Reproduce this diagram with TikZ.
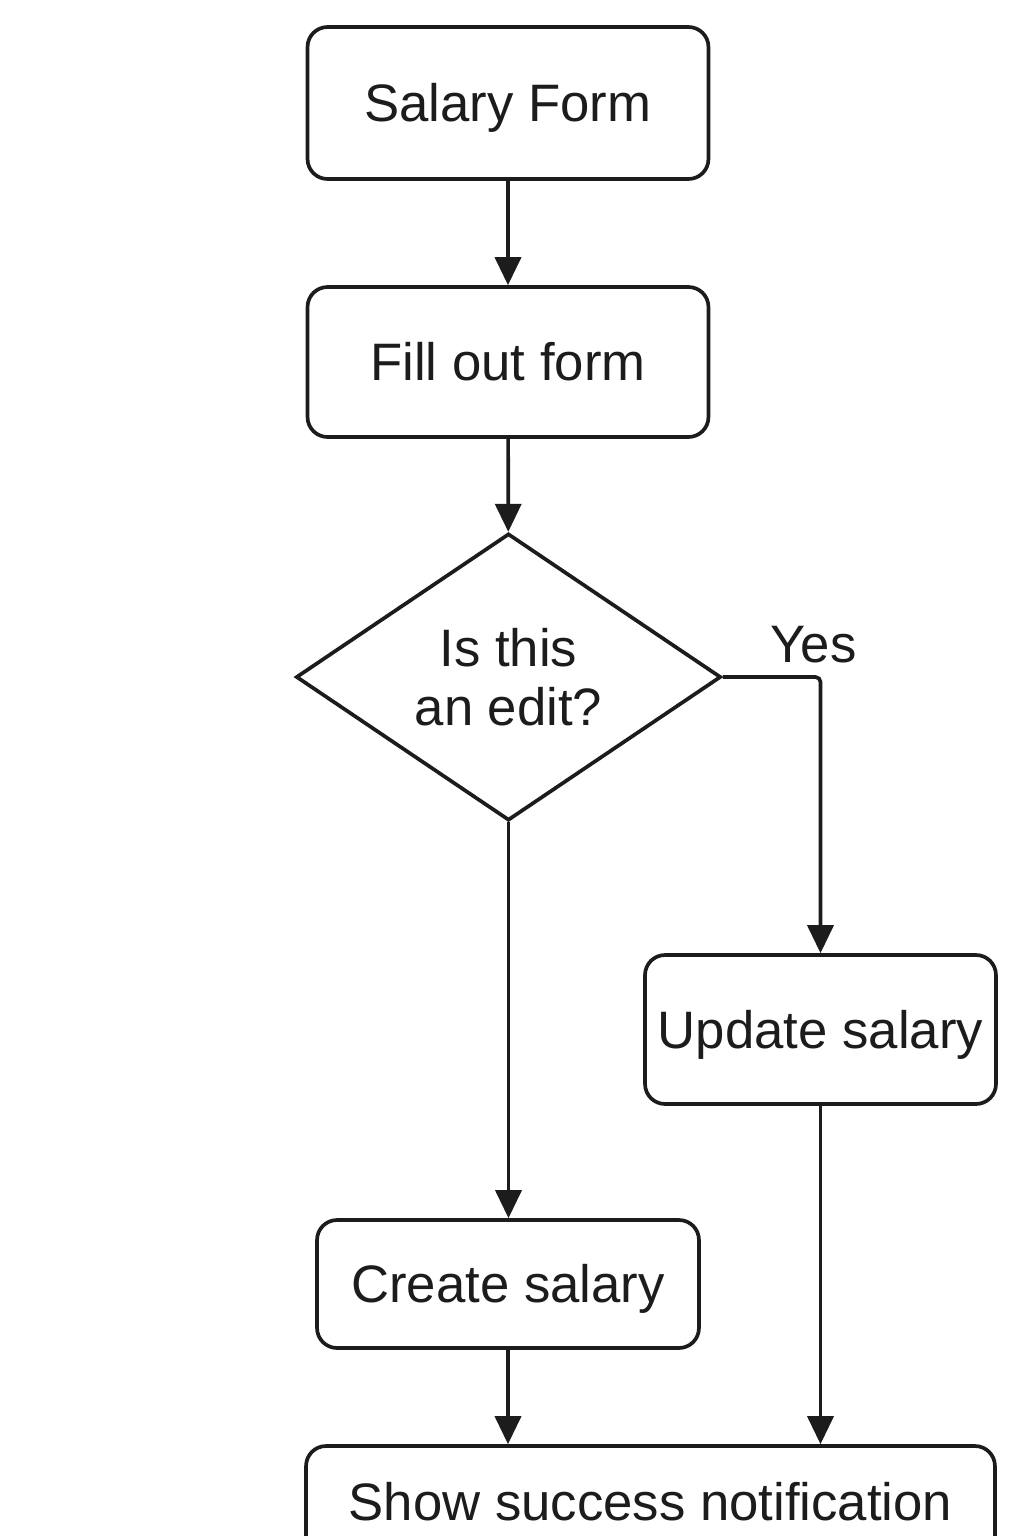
\documentclass[tikz,border=0pt]{standalone}
\usepackage{fontspec}
\setmainfont{Liberation Sans}
\usetikzlibrary{shapes.geometric,arrows.meta}
\definecolor{ink}{HTML}{1C1C1C}
\tikzset{
  box/.style={draw=ink, line width=2.1pt, rounded corners=0.4cm, inner sep=0pt,
    text=ink, font=\fontsize{30}{35}\selectfont, text height=21.5pt, text depth=0pt},
  decision/.style={draw=ink, line width=2.1pt, diamond, inner sep=0pt, text=ink,
    align=center, font=\fontsize{30}{33.6}\selectfont,
    minimum width=8.5cm, minimum height=5.74cm},
  flow/.style={draw=ink, line width=2.1pt, -{Triangle[length=0.56cm,width=0.52cm]}}
}
\begin{document}
\begin{tikzpicture}[x=0.02cm, y=-0.02cm]
  \clip (0,0) rectangle (1024,1536);
  \fill[white] (0,0) rectangle (1024,1536);

  % the boxes
  \node[box, minimum width=8.02cm, minimum height=3.04cm] (form) at (508,103) {Salary Form};
  \node[box, minimum width=8.02cm, minimum height=3.0cm] (fill) at (508,362) {Fill out form};
  \node[decision] (edit) at (508.5,677) {Is this\\an edit?};
  \node[box, minimum width=7.02cm, minimum height=2.98cm] (update) at (820.5,1029.5) {Update salary};
  \node[box, minimum width=7.64cm, minimum height=2.56cm] (create) at (508,1284) {Create salary};
  \node[box, minimum width=13.78cm, minimum height=2.24cm] (notify) at (650.5,1502) {Show success notification};

  % the arrows
  \draw[flow] (form) -- (fill);
  \draw[flow] (fill) -- (edit);
  \draw[flow, rounded corners=0.1cm] (edit.east) -| node[pos=0.5, above, xshift=-4, inner sep=7pt, text=ink,
    font=\fontsize{30}{35}\selectfont, text depth=0pt] {Yes} (update.north);
  \draw[flow] (edit.south) -- (edit.south |- create.north);
  \draw[flow] (create.south) -- (create.south |- notify.north);
  \draw[flow] (update.south) -- (update.south |- notify.north);
\end{tikzpicture}
\end{document}
